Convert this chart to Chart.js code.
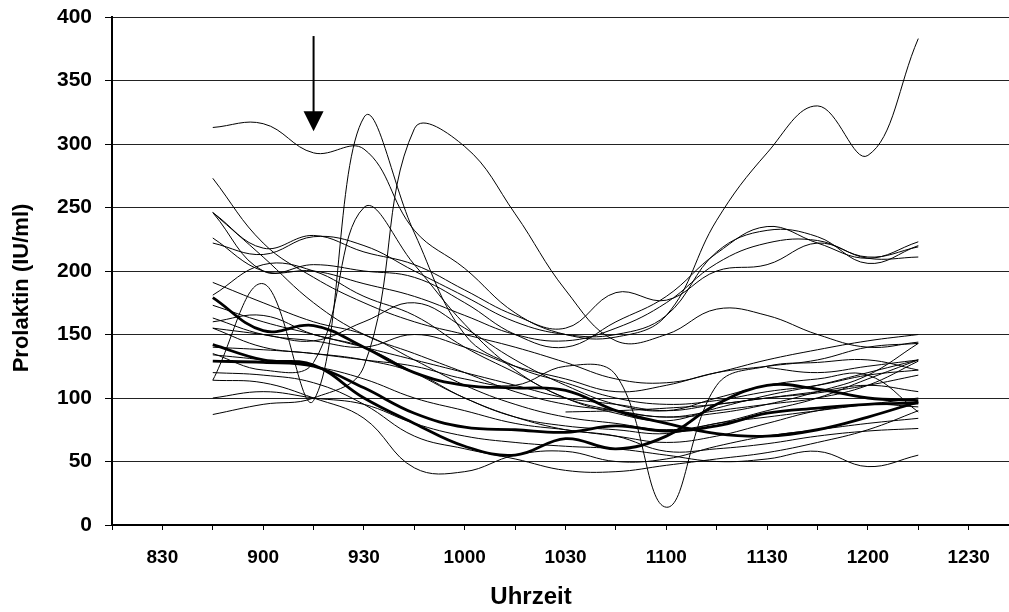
<!DOCTYPE html>
<html><head><meta charset="utf-8">
<script src="https://cdn.jsdelivr.net/npm/chart.js@4/dist/chart.umd.min.js"></script>
<style>html,body{margin:0;padding:0;background:#fff;overflow:hidden}</style>
</head><body>
<canvas id="c" width="1009" height="612"></canvas>
<script>
// sampling times (minutes after midnight): 8:45 ... 12:15
const times = [525,540,555,570,585,600,615,630,645,660,675,690,705,720,735];
// x tick labels (every 30 min)
const tickTimes  = [510,540,570,600,630,660,690,720,750];
const tickLabels = ['830','900','930','1000','1030','1100','1130','1200','1230'];
const yTicks = [0,50,100,150,200,250,300,350,400];
const xTitle = 'Uhrzeit';
const yTitle = 'Prolaktin (IU/ml)';

// thin series (Prolaktin IU/ml)
const s01 = [313,316,293,296,232,202,167,150,148,165,240,293,330,291,383];
const s02 = [114,190,98,321,230,150,125,112,100,95,98,105,110,118,122];
const s03 = [135,122,128,250,205,158,122,100,88,82,92,102,110,120,130];
const s04 = [87,95,100,125,312,298,245,185,145,150,170,165,150,140,144];
const s05 = [273,222,195,175,160,150,140,128,115,112,120,130,138,145,150];
const s06 = [246,218,228,215,205,185,165,155,183,177,200,205,222,210,211];
const s07 = [222,213,227,220,200,180,160,150,150,165,215,232,227,206,220];
const s08 = [246,200,205,200,195,175,150,140,160,180,214,235,222,210,223];
const s09 = [226,200,200,190,180,165,150,145,155,175,206,222,224,211,219];
const s10 = [246,211,175,150,135,120,105,95,90,85,90,95,100,110,129];
const s11 = [191,175,160,150,130,110,95,85,80,75,80,90,100,115,130];
const s12 = [181,205,200,180,165,140,120,100,90,85,88,95,105,118,143];
const s13 = [173,160,150,140,130,120,110,100,95,90,95,100,105,110,105];
const s14 = [163,150,145,140,150,140,125,115,105,110,120,125,130,140,143];
const s15 = [155,150,145,160,175,155,130,110,95,90,100,110,115,118,89];
const s16 = [140,138,135,130,120,100,85,78,75,72,80,85,90,95,100];
const s17 = [134,130,125,115,100,90,80,75,70,65,70,80,90,95,93];
const s18 = [114,112,100,84,45,42,55,58,50,52,62,70,75,80,84];
const s19 = [120,118,112,95,70,60,52,43,42,47,52,57,65,75,90];
const s20 = [100,105,100,95,80,70,65,62,60,55,50,52,58,46,55];
const s21 = [160,165,150,140,120,100,85,75,70,58,60,64,70,74,76];
const s22 = [155,140,135,130,125,115,110,125,118,14,110,125,128,130,122];
const s23 = [null,null,null,null,null,null,null,89,90,92,95,100,104,110,118];
const s24 = [null,null,null,null,null,null,null,null,null,null,null,124,120,125,130];
// thick series
const t1 = [179,153,157,140,120,110,108,106,90,80,72,70,75,85,97];
const t2 = [142,130,126,100,80,62,55,68,60,70,95,110,107,100,98];
const t3 = [129,128,125,108,88,77,75,73,78,74,78,88,92,95,96];

const thin = [s01,s02,s03,s04,s05,s06,s07,s08,s09,s10,s11,s12,s13,s14,s15,s16,s17,s18,s19,s20,s21,s22,s23,s24];
const thick = [t1,t2,t3];

// arrow marking 9:15 (time, from value, to value)
const arrowTime = 555, arrowFrom = 385, arrowTo = 310;

const toPts = arr => arr.map((v,i)=>({x:times[i], y:v}));
const datasets = [];
thin.forEach(a=>datasets.push({data:toPts(a), borderColor:'#000', borderWidth:1, pointRadius:0, tension:0.4, fill:false}));
thick.forEach(a=>datasets.push({data:toPts(a), borderColor:'#000', borderWidth:2.8, pointRadius:0, tension:0.4, fill:false}));

const FAM = "'Liberation Sans', Arial, sans-serif";
const extras = {
  id:'extras',
  afterDatasetsDraw(chart){
    const {ctx, scales:{x,y}} = chart;
    const px = x.getPixelForValue(arrowTime);
    const y1 = y.getPixelForValue(arrowFrom);
    const y2 = y.getPixelForValue(arrowTo);
    const head = 20;
    ctx.save();
    ctx.strokeStyle='#000'; ctx.fillStyle='#000'; ctx.lineWidth=2;
    ctx.beginPath(); ctx.moveTo(px,y1); ctx.lineTo(px,y2-head+2); ctx.stroke();
    ctx.beginPath(); ctx.moveTo(px-10,y2-head); ctx.lineTo(px+10,y2-head); ctx.lineTo(px,y2); ctx.closePath(); ctx.fill();
    ctx.restore();
  },
  afterDraw(chart){
    const ctx = chart.ctx;
    ctx.save();
    ctx.fillStyle='#000';
    ctx.textAlign='center'; ctx.textBaseline='middle';
    ctx.font = "bold 24px " + FAM;
    ctx.fillText(xTitle, 531, 597);
    ctx.font = "bold 22px " + FAM;
    ctx.translate(22, 288); ctx.rotate(-Math.PI/2);
    ctx.fillText(yTitle, 0, 0);
    ctx.restore();
  }
};

new Chart(document.getElementById('c'), {
  type:'line',
  data:{datasets},
  plugins:[extras],
  options:{
    responsive:false, animation:false, devicePixelRatio:1,
    layout:{padding:{top:17,right:0,bottom:0,left:0}},
    plugins:{legend:{display:false}, tooltip:{enabled:false}},
    scales:{
      x:{type:'linear', min:495, max:762,
        afterFit(s){ s.height = 87; s.paddingLeft = 0; s.paddingRight = 0; },
        ticks:{stepSize:15, includeBounds:false, autoSkip:false, maxRotation:0, color:'#000',
          font:{family:FAM, weight:'bold', size:19}, padding:16,
          callback:(v)=>{ const i = tickTimes.indexOf(v); return i>=0 ? tickLabels[i] : ''; }},
        grid:{drawOnChartArea:false, drawTicks:true, tickLength:5, tickColor:'#000', tickWidth:1},
        border:{display:true, color:'#000', width:2}
      },
      y:{min:0, max:400,
        afterFit(s){ s.width = 112; s.paddingTop = 0; s.paddingBottom = 0; },
        afterBuildTicks(s){ s.ticks = yTicks.map(v=>({value:v})); },
        ticks:{color:'#000', font:{family:FAM, weight:'bold', size:21}, padding:13},
        grid:{color:'#222', lineWidth:1, drawTicks:true, tickLength:7, tickColor:'#000'},
        border:{display:true, color:'#000', width:2}
      }
    }
  }
});
</script>
</body></html>
